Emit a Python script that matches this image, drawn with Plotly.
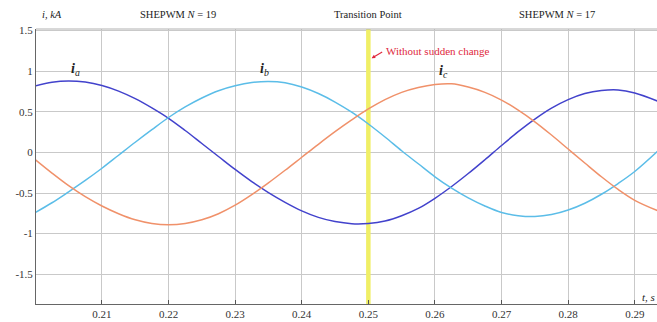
import plotly.graph_objects as go

t = [0.2000, 0.2025, 0.2050, 0.2075, 0.2100, 0.2125, 0.2150, 0.2175, 0.2200, 0.2225,
     0.2250, 0.2275, 0.2300, 0.2325, 0.2350, 0.2375, 0.2400, 0.2425, 0.2450, 0.2475,
     0.2500, 0.2525, 0.2550, 0.2575, 0.2600, 0.2625, 0.2650, 0.2675, 0.2700, 0.2725,
     0.2750, 0.2775, 0.2800, 0.2825, 0.2850, 0.2875, 0.2900, 0.2935]

ia = [0.82, 0.865, 0.88, 0.866, 0.824, 0.755, 0.662, 0.548, 0.42, 0.27,
      0.11, -0.05, -0.21, -0.36, -0.495, -0.615, -0.72, -0.80, -0.852, -0.878,
      -0.875, -0.845, -0.78, -0.69, -0.565, -0.42, -0.26, -0.09, 0.085, 0.255,
      0.41, 0.545, 0.65, 0.725, 0.763, 0.77, 0.732, 0.63]

ib = [-0.74, -0.62, -0.485, -0.345, -0.195, -0.035, 0.125, 0.28, 0.43, 0.56,
      0.67, 0.76, 0.82, 0.86, 0.873, 0.857, 0.805, 0.725, 0.62, 0.495,
      0.35, 0.19, 0.02, -0.14, -0.30, -0.44, -0.56, -0.66, -0.74, -0.78,
      -0.79, -0.766, -0.71, -0.626, -0.515, -0.383, -0.235, 0.02]

ic = [-0.09, -0.255, -0.41, -0.545, -0.66, -0.755, -0.83, -0.875, -0.89, -0.875,
      -0.83, -0.755, -0.65, -0.52, -0.375, -0.22, -0.06, 0.10, 0.255, 0.40,
      0.535, 0.65, 0.74, 0.80, 0.837, 0.845, 0.805, 0.74, 0.645, 0.52,
      0.377, 0.214, 0.042, -0.13, -0.30, -0.456, -0.59, -0.72]

x_ticks = [0.21, 0.22, 0.23, 0.24, 0.25, 0.26, 0.27, 0.28, 0.29]
y_ticks = [-1.5, -1, -0.5, 0, 0.5, 1, 1.5]
y_tick_labels = ["-1.5", "-1", "-0.5", "0", "0.5", "1", "1.5"]
transition_t = 0.25
y_range = [-1.867, 1.52]

FONT = "Liberation Serif"

fig = go.Figure()

# transition marker (drawn above grid, below the currents)
fig.add_trace(go.Scatter(x=[transition_t, transition_t], y=y_range, mode="lines",
                         line=dict(color="#f0ef66", width=4.5), showlegend=False, hoverinfo="skip"))

fig.add_trace(go.Scatter(x=t, y=ia, mode="lines", line=dict(color="#4242cc", width=1.5, shape="spline"), showlegend=False))
fig.add_trace(go.Scatter(x=t, y=ib, mode="lines", line=dict(color="#5bbde8", width=1.5, shape="spline"), showlegend=False))
fig.add_trace(go.Scatter(x=t, y=ic, mode="lines", line=dict(color="#f0916a", width=1.5, shape="spline"), showlegend=False))

W, H = 657, 322
L, R, T, B = 36, 0, 29, 18
pw, ph = W - L - R, H - T - B
def px(xp):
    return (xp - L) / pw
def py(yp):
    return (H - B - yp) / ph

ann = []
labels = [
    (52, 15, "<i>i</i>, <i>kA</i>"),
    (178, 15, "SHEPWM <i>N</i> = 19"),
    (368, 15, "Transition Point"),
    (557, 15, "SHEPWM <i>N</i> = 17"),
]
for xp, yp, txt in labels:
    ann.append(dict(x=px(xp), y=py(yp), xref="paper", yref="paper", text=txt, showarrow=False,
                    xanchor="center", yanchor="middle", font=dict(family=FONT, size=10.5, color="#222")))

ann.append(dict(x=px(384), y=py(51), xref="paper", yref="paper", text="Without sudden change",
                showarrow=False, xanchor="left", yanchor="middle",
                font=dict(family=FONT, size=11, color="#e0283c")))
ann.append(dict(x=transition_t + 0.0005, y=1.16, xref="x", yref="y", ax=12, ay=-7,
                axref="pixel", ayref="pixel", text="", showarrow=True, arrowhead=2,
                arrowsize=0.6, arrowwidth=1.2, arrowcolor="#e0283c"))

curve_labels = [(75, 70, "<b><i>i</i></b><sub><i>a</i></sub>"),
                (264, 70, "<b><i>i</i></b><sub><i>b</i></sub>"),
                (443, 71, "<b><i>i</i></b><sub><i>c</i></sub>")]
for xp, yp, txt in curve_labels:
    ann.append(dict(x=px(xp), y=py(yp), xref="paper", yref="paper", text=txt, showarrow=False,
                    xanchor="center", yanchor="middle", font=dict(family=FONT, size=14, color="#222")))

ann.append(dict(x=px(648), y=py(297), xref="paper", yref="paper", text="<i>t</i>, <i>s</i>",
                showarrow=False, xanchor="center", yanchor="middle",
                font=dict(family=FONT, size=11, color="#222")))

fig.update_layout(
    width=W, height=H,
    margin=dict(l=L, r=R, t=T, b=B),
    paper_bgcolor="white", plot_bgcolor="white",
    annotations=ann,
    xaxis=dict(range=[0.2001, 0.29334], tickvals=x_ticks, ticktext=[f"{v:.2f}" for v in x_ticks],
               showgrid=True, gridcolor="#c9c9c9", gridwidth=1, zeroline=False,
               showline=True, linecolor="#666", linewidth=1, ticks="inside", ticklen=4,
               tickcolor="#555", tickfont=dict(family=FONT, size=11, color="#333")),
    yaxis=dict(range=y_range, tickvals=y_ticks, ticktext=y_tick_labels,
               showgrid=True, gridcolor="#c9c9c9", gridwidth=1, zeroline=False,
               showline=True, linecolor="#666", linewidth=1, ticks="",
               tickfont=dict(family=FONT, size=11, color="#333")),
)
fig.add_shape(type="line", xref="paper", yref="paper", x0=0, x1=1, y0=1, y1=1,
              line=dict(color="#b0b0b0", width=1))

fig.write_html("out.html")
